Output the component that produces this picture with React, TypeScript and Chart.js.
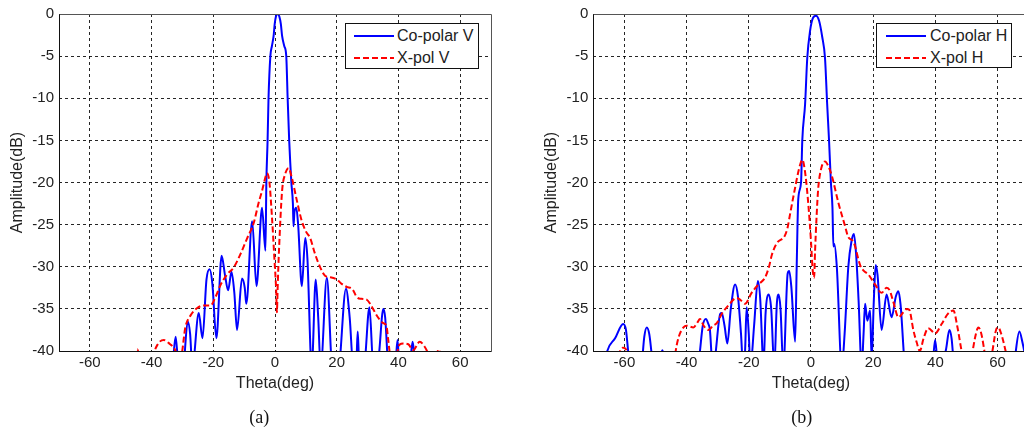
import React, { useEffect, useRef } from "react";
import { Chart, registerables } from "chart.js";

Chart.register(...registerables);

// ---------- data ----------
const xTickValues = [-60, -40, -20, 0, 20, 40, 60];
const yTickStep = 5;

// (a) Co-polar V
const coVTheta = [-70, -34, -33, -32.2, -31.5, -30, -29.2, -28.3, -27.5, -26.8, -24.7, -23.5, -22.2, -21.2, -20.3, -19.0, -17.3, -16.2, -15.2, -14.1, -13.2, -12.3, -10.7, -9.8, -9.3, -7.4, -6.0, -4.2, -3.1, -2.8, -2.4, -2.1, -1.5, -1.0, -0.45, -0.1, 0.3, 0.85, 1.4, 1.9, 2.3, 3.0, 3.65, 4.1, 4.6, 5.3, 5.8, 6.0, 6.3, 6.9, 7.5, 8.7, 9.8, 10.5, 11.9, 13.2, 14.0, 14.8, 16.8, 18.4, 19.3, 20.8, 23.0, 24.2, 25.4, 26.4, 26.8, 27.2, 28.0, 29.2, 30.6, 31.9, 33.5, 35.1, 35.7, 36.7, 38.5, 39.2, 39.7, 40.2, 43.8, 44.6, 45.3, 47, 70];
const coVAmp = [-45, -45, -41, -38.3, -41, -45, -40, -36.5, -38, -42, -35.5, -38.5, -31.5, -30.3, -32, -38.5, -28.7, -31, -32.8, -30.6, -33, -37.5, -31.4, -32.5, -34.4, -24.6, -32.3, -23.0, -28.1, -20, -15, -10, -5, -3.8, -2.6, -1.2, -0.3, 0, -0.3, -1.2, -2.6, -3.8, -5, -10, -15, -20, -22.5, -25.2, -23.5, -23.0, -25, -32.3, -26.6, -29, -42, -31.5, -36, -42, -31.3, -42, -45, -42, -32.6, -36, -42, -41, -37.7, -41, -45, -41, -34.8, -42, -41, -35, -36, -42, -45, -41, -38.7, -41, -41, -38.9, -41, -45, -45];

// (a) X-pol V
const xVTheta = [-70, -46.5, -45.5, -44.6, -43.8, -41, -39.3, -38, -36, -34, -32.8, -31.5, -30.6, -29, -27.4, -25.2, -23, -20.9, -19.3, -17.7, -15.5, -13.4, -11.2, -9.0, -6.9, -5.3, -4.2, -3.2, -2.6, -1.8, -1.0, -0.2, 0.4, 0.6, 0.9, 1.3, 2.3, 3.3, 4.4, 5.5, 7, 8.7, 10, 11.4, 13, 14.8, 16.3, 17.3, 20, 21.5, 23.3, 25, 26.5, 28, 29.7, 31, 33, 35.1, 36.1, 36.7, 37.3, 38.5, 39.5, 40.5, 41.5, 43.2, 44.8, 46.9, 48.5, 49.6, 51, 52.5, 53, 53.5, 55, 70];
const xVAmp = [-45, -45, -41, -39.8, -41, -45, -40.5, -39.2, -38.7, -39.2, -39.6, -40.5, -40.8, -37.1, -35.8, -34.9, -34.6, -34.6, -33.6, -32.2, -30.9, -30.1, -28.5, -26.6, -24.8, -22.4, -21, -19.5, -18.9, -20, -24, -29, -33, -35.4, -32, -28, -21, -19, -18.3, -19.5, -22, -24.6, -25.8, -26.6, -28.5, -30.2, -31.1, -31.2, -31.5, -32, -32.4, -32.6, -33.6, -33.8, -33.9, -34.5, -35.8, -36.7, -37, -38.7, -40.5, -42, -40.3, -39.2, -39.1, -39.2, -39.9, -38.9, -39.5, -40.3, -42, -40.3, -39.8, -40.3, -45, -45];

// (b) Co-polar H
const coHTheta = [-70, -66.5, -65.5, -63, -60.4, -59.5, -58.8, -58.2, -56, -54.5, -53.6, -52.8, -52, -51.2, -50.5, -48.5, -47.8, -47.1, -46, -37, -36, -35.7, -34.8, -33.8, -33, -32.5, -31.9, -31.5, -30.6, -29.2, -28.7, -27.8, -26.9, -25.8, -24.4, -23.5, -22.5, -21.8, -21.2, -20.7, -20.0, -19.5, -18.3, -17.1, -16.3, -15.5, -15.3, -14.6, -13.6, -12.8, -11.8, -11.0, -10.4, -9.8, -8.9, -7.5, -7.0, -6.3, -5.1, -4.6, -4.1, -3.2, -2.8, -1.9, -1.2, -0.3, 0.6, 1.6, 2.6, 3.6, 4.5, 5.2, 5.8, 6.4, 6.9, 7.2, 7.5, 8.3, 9.9, 10.8, 12.0, 13.0, 13.8, 14.5, 15.3, 16.3, 16.9, 17.4, 18.1, 19, 19.5, 20.2, 20.8, 21.4, 22.7, 24.3, 25.9, 27.3, 28.1, 28.8, 30.2, 32, 39, 39.9, 40.7, 43.3, 44.5, 45.2, 45.8, 47, 64, 65.5, 67, 68, 69, 70];
const coHAmp = [-45, -42, -40, -38.5, -36.8, -37.5, -40, -42, -45, -42, -38.3, -37.2, -38, -40.5, -43, -41, -39.9, -41, -45, -45, -41, -40, -37, -36.2, -36.8, -37.5, -41, -43, -40, -35.6, -35.5, -37, -39.1, -35, -32.1, -33.5, -38, -42, -40, -34.8, -38, -42, -37, -31.7, -34, -41, -42, -35.5, -33.3, -35, -42, -34.5, -33.3, -35, -42, -30.8, -30.5, -32.5, -38.9, -30, -22, -20, -15, -10.7, -5.2, -2, -0.5, -0.2, -0.8, -2.7, -5.2, -10.7, -15, -20, -23, -27.6, -27.3, -30, -42, -38, -30, -27, -26.1, -28.5, -34, -42, -38, -34.4, -36.4, -35.2, -41, -34, -29.8, -31, -37.5, -33.3, -36, -33.5, -32.9, -34.5, -42, -45, -42, -38.7, -41, -40, -37.5, -38.5, -41, -45, -45, -41, -37.7, -39, -41, -44];

// (b) X-pol H
const xHTheta = [-70, -62.3, -61, -60.4, -59.5, -58.5, -57, -45, -43.5, -42.5, -41, -40, -37.8, -36.5, -35.7, -34.5, -33, -31.5, -30.3, -28.7, -26.6, -23.9, -22.5, -21.2, -19.1, -16.9, -14.8, -13.5, -12.6, -11, -8.4, -7.5, -6.8, -5.1, -3.8, -2.8, -2, -0.9, 0, 0.5, 1.0, 1.3, 1.8, 2.3, 3.3, 4.5, 5.5, 6.7, 8.8, 10.9, 12, 13.6, 15.8, 17, 18.4, 20.6, 22.7, 24.3, 25.3, 26.5, 28.1, 29.7, 30.8, 31.6, 32.9, 34, 35, 36.2, 37.7, 39.9, 42, 44, 45.8, 47, 48.5, 50, 51.7, 53, 53.8, 54.8, 56, 57, 58.1, 59.5, 60.2, 61.2, 62.9, 64.5, 70];
const xHAmp = [-45, -41, -39.7, -39.6, -39.8, -41, -45, -45, -40, -38.3, -37.2, -37, -37.2, -36.6, -36.2, -37, -37.5, -37, -36.7, -35.6, -34.6, -33.7, -34, -34.4, -33.1, -32.1, -31.3, -30, -28.6, -27.2, -26.3, -25.3, -23.9, -20.6, -18.3, -17.3, -18.5, -22.4, -27, -30.2, -31.3, -28.2, -24, -20.8, -18.3, -17.5, -18, -19.2, -22.4, -25.1, -26.5, -27, -29.8, -30.5, -30.9, -32.1, -33.1, -32.5, -32.8, -34.2, -36.0, -35.4, -35, -35.1, -37.5, -39, -40, -38.5, -37.3, -37.9, -36.8, -35.6, -35.2, -37, -40.2, -43, -40.5, -38, -37.2, -38, -40.5, -42, -40.5, -37.5, -37.2, -38, -40.5, -43, -45];

const legendLabelsA = ["Co-polar V", "X-pol V"];
const legendLabelsB = ["Co-polar H", "X-pol H"];
const axisTitleX = "Theta(deg)";
const axisTitleY = "Amplitude(dB)";

// ---------- helpers ----------
const BLUE = "#0000ff";
const RED = "#ff0000";
const FONT = "'Liberation Sans', Arial, Helvetica, sans-serif";

function pts(t: number[], a: number[]) {
  return t.map((x, i) => ({ x, y: a[i] }));
}

const framePlugin = {
  id: "frame",
  afterDraw(chart: any) {
    const { ctx, chartArea } = chart;
    const l = Math.round(chartArea.left) + 0.5;
    const t = Math.round(chartArea.top) + 0.5;
    const r = Math.round(chartArea.right) + 0.5;
    const b = Math.round(chartArea.bottom) + 0.5;
    ctx.save();
    ctx.lineWidth = 1;
    ctx.strokeStyle = "#555";
    ctx.beginPath();
    ctx.moveTo(l, t);
    ctx.lineTo(r, t);
    ctx.lineTo(r, b);
    ctx.stroke();
    ctx.strokeStyle = "#111";
    ctx.beginPath();
    ctx.moveTo(l, t);
    ctx.lineTo(l, b);
    ctx.lineTo(r, b);
    ctx.stroke();
    ctx.restore();
  },
};

type PlotProps = {
  left: number;
  width: number;
  padLeft: number;
  padRight: number;
  padTop: number;
  yWidth: number;
  coT: number[];
  coA: number[];
  xT: number[];
  xA: number[];
  labels: string[];
};

function Plot(p: PlotProps) {
  const ref = useRef<HTMLCanvasElement | null>(null);
  useEffect(() => {
    if (!ref.current) return;
    const chart = new Chart(ref.current, {
      type: "line",
      data: {
        datasets: [
          {
            label: p.labels[1],
            data: pts(p.xT, p.xA),
            borderColor: RED,
            borderWidth: 2,
            borderDash: [6, 3],
            pointRadius: 0,
            cubicInterpolationMode: "monotone",
            fill: false,
            clip: 0,
          } as any,
          {
            label: p.labels[0],
            data: pts(p.coT, p.coA),
            borderColor: BLUE,
            borderWidth: 2,
            pointRadius: 0,
            cubicInterpolationMode: "monotone",
            fill: false,
            clip: 0,
          } as any,
        ],
      },
      options: {
        responsive: false,
        animation: false,
        events: [],
        layout: { padding: { left: p.padLeft, right: p.padRight, top: p.padTop, bottom: 0 } },
        plugins: { legend: { display: false }, tooltip: { enabled: false } },
        scales: {
          x: {
            type: "linear",
            min: -70,
            max: 70,
            afterBuildTicks: (s: any) => {
              s.ticks = xTickValues.map((v) => ({ value: v }));
            },
            afterFit: (s: any) => {
              s.height = 80;
            },
            grid: { color: "rgba(0,0,0,0.85)", lineWidth: 1, drawTicks: false },
            border: { display: false, dash: [3, 3] },
            ticks: {
              padding: 3,
              color: "#222",
              font: { family: FONT, size: 15 },
              maxRotation: 0,
              callback: (v: any) => String(v),
            },
            title: {
              display: true,
              text: axisTitleX,
              color: "#222",
              font: { family: FONT, size: 16 },
              padding: { top: 0, bottom: 38 },
            },
          },
          y: {
            type: "linear",
            min: -40,
            max: 0,
            afterFit: (s: any) => {
              s.width = p.yWidth;
            },
            grid: { color: "rgba(0,0,0,0.85)", lineWidth: 1, drawTicks: false },
            border: { display: false, dash: [3, 3] },
            ticks: {
              stepSize: yTickStep,
              padding: 5,
              color: "#222",
              font: { family: FONT, size: 15 },
              callback: (v: any) => String(v),
            },
            title: {
              display: true,
              text: axisTitleY,
              color: "#222",
              font: { family: FONT, size: 16 },
              padding: { top: 8, bottom: 0 },
            },
          },
        },
      } as any,
      plugins: [framePlugin],
    });
    return () => chart.destroy();
  }, []);
  return (
    <canvas
      ref={ref}
      width={p.width}
      height={431}
      style={{ position: "absolute", left: p.left, top: 0, width: p.width, height: 431 }}
    />
  );
}

function Legend({ left, top, width, height, labels, lineX, textX }: any) {
  const rows = [
    { color: BLUE, dash: undefined, y: 12 },
    { color: RED, dash: "6 3", y: 33.7 },
  ];
  return (
    <div
      style={{
        position: "absolute",
        left,
        top,
        width,
        height,
        boxSizing: "border-box",
        border: "1px solid #111",
        background: "#fff",
        fontFamily: FONT,
        fontSize: 16,
        color: "#222",
      }}
    >
      {rows.map((r, i) => (
        <React.Fragment key={i}>
          <svg
            width={40}
            height={4}
            style={{ position: "absolute", left: lineX, top: r.y - 2 }}
          >
            <line x1={0} y1={2} x2={40} y2={2} stroke={r.color} strokeWidth={2} strokeDasharray={r.dash} />
          </svg>
          <div
            style={{
              position: "absolute",
              left: textX,
              top: r.y - 10,
              height: 20,
              lineHeight: "20px",
              whiteSpace: "nowrap",
            }}
          >
            {labels[i]}
          </div>
        </React.Fragment>
      ))}
    </div>
  );
}

function Caption({ cx, text }: { cx: number; text: string }) {
  return (
    <div
      style={{
        position: "absolute",
        left: cx - 30,
        width: 60,
        top: 406.5,
        height: 20,
        lineHeight: "20px",
        textAlign: "center",
        fontFamily: "'Liberation Serif', 'Times New Roman', serif",
        fontSize: 18,
        color: "#111",
      }}
    >
      {text}
    </div>
  );
}

export default function App() {
  return (
    <div
      style={{
        position: "absolute",
        left: 0,
        top: 0,
        width: 1024,
        height: 431,
        overflow: "hidden",
        background: "#fff",
      }}
    >
      <Plot left={0} width={500} padLeft={0} padRight={9} padTop={11} yWidth={59}
        coT={coVTheta} coA={coVAmp} xT={xVTheta} xA={xVAmp} labels={legendLabelsA} />
      <Plot left={510} width={530} padLeft={24} padRight={11.3} padTop={8.5} yWidth={59.3}
        coT={coHTheta} coA={coHAmp} xT={xHTheta} xA={xHAmp} labels={legendLabelsB} />
      <Legend left={345} top={23} width={134} height={46} labels={legendLabelsA} lineX={8} textX={51} />
      <Legend left={876} top={23} width={136} height={45} labels={legendLabelsB} lineX={9} textX={53} />
      <Caption cx={259.3} text="(a)" />
      <Caption cx={801.7} text="(b)" />
    </div>
  );
}
